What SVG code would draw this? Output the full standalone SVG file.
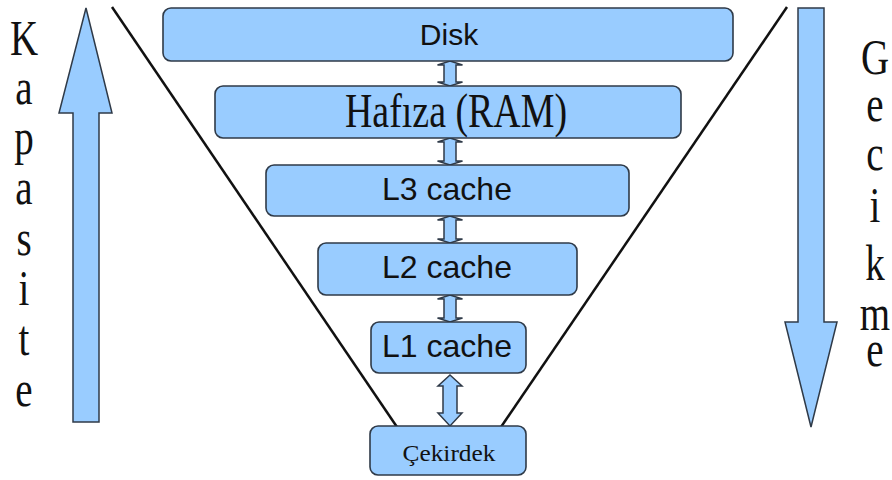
<svg xmlns="http://www.w3.org/2000/svg" width="892" height="480" viewBox="0 0 892 480">
<style>
.box{fill:#99ccff;stroke:#2f3a48;stroke-width:1.6}
.arr{fill:#99ccff;stroke:#2f3a48;stroke-width:1.5;stroke-linejoin:miter}
.edge{stroke:#111;stroke-width:2.5;fill:none}
.sans{font-family:"Liberation Sans",Arial,sans-serif;fill:#111;text-anchor:middle}
.serif{font-family:"Liberation Serif","Times New Roman",serif;fill:#111;text-anchor:middle}
</style>
<rect width="892" height="480" fill="#ffffff"/>
<g id="funnel" class="edge">
<line x1="112" y1="7" x2="397" y2="427"/>
<line x1="787" y1="7" x2="501" y2="427"/>
</g>
<g id="connectors">
<polygon class="arr" points="450,61 462.5,65 456,65 456,82 462.5,82 450,86 437.5,82 444,82 444,65 437.5,65"/>
<polygon class="arr" points="450,138 462.5,142 456,142 456,161 462.5,161 450,165 437.5,161 444,161 444,142 437.5,142"/>
<polygon class="arr" points="450,216 462.5,220 456,220 456,239 462.5,239 450,243 437.5,239 444,239 444,220 437.5,220"/>
<polygon class="arr" points="450,295 462.5,299 456,299 456,318 462.5,318 450,322 437.5,318 444,318 444,299 437.5,299"/>
<polygon class="arr" points="450,375 462,386 457,386 457,413 462,413 450,426 438,413 443,413 443,386 438,386"/>
</g>
<g id="disk">
<rect class="box" x="163" y="8" width="570" height="53" rx="8"/>
<text class="sans" x="449" y="45" font-size="30">Disk</text>
</g>
<g id="ram">
<rect class="box" x="215" y="86" width="466" height="52" rx="8"/>
<text class="serif" x="456" y="127" font-size="48" textLength="222" lengthAdjust="spacingAndGlyphs">Hafıza (RAM)</text>
</g>
<g id="l3">
<rect class="box" x="266" y="165" width="363" height="51" rx="8"/>
<text class="sans" x="447" y="200" font-size="32">L3 cache</text>
</g>
<g id="l2">
<rect class="box" x="318" y="243" width="259" height="52" rx="8"/>
<text class="sans" x="447" y="278" font-size="32">L2 cache</text>
</g>
<g id="l1">
<rect class="box" x="371" y="322" width="155" height="51" rx="8"/>
<text class="sans" x="447" y="357" font-size="32">L1 cache</text>
</g>
<g id="cekirdek">
<rect class="box" x="370" y="426" width="156" height="49" rx="8"/>
<text class="serif" x="449" y="461" font-size="24" textLength="93" lengthAdjust="spacingAndGlyphs">Çekirdek</text>
</g>
<g id="kapasite">
<polygon class="arr" points="86,8 112,113 99,113 99,422 73,422 73,113 59,113"/>
<g transform="translate(24,0) scale(0.78,1)">
<text class="serif" x="0" y="55" font-size="50">K</text>
<text class="serif" x="0" y="104" font-size="50">a</text>
<text class="serif" x="0" y="154" font-size="50">p</text>
<text class="serif" x="0" y="204" font-size="50">a</text>
<text class="serif" x="0" y="255" font-size="50">s</text>
<text class="serif" x="0" y="305" font-size="50">i</text>
<text class="serif" x="0" y="355" font-size="50">t</text>
<text class="serif" x="0" y="406" font-size="50">e</text>
</g>
</g>
<g id="gecikme">
<polygon class="arr" points="798,8 824,8 824,322 837,322 811,427 785,322 798,322"/>
<g transform="translate(875,0) scale(0.78,1)">
<text class="serif" x="0" y="74" font-size="50">G</text>
<text class="serif" x="0" y="121" font-size="50">e</text>
<text class="serif" x="0" y="170" font-size="50">c</text>
<text class="serif" x="0" y="222" font-size="50">i</text>
<text class="serif" x="0" y="280" font-size="50">k</text>
<text class="serif" x="0" y="330" font-size="50">m</text>
<text class="serif" x="0" y="366" font-size="50">e</text>
</g>
</g>
</svg>
